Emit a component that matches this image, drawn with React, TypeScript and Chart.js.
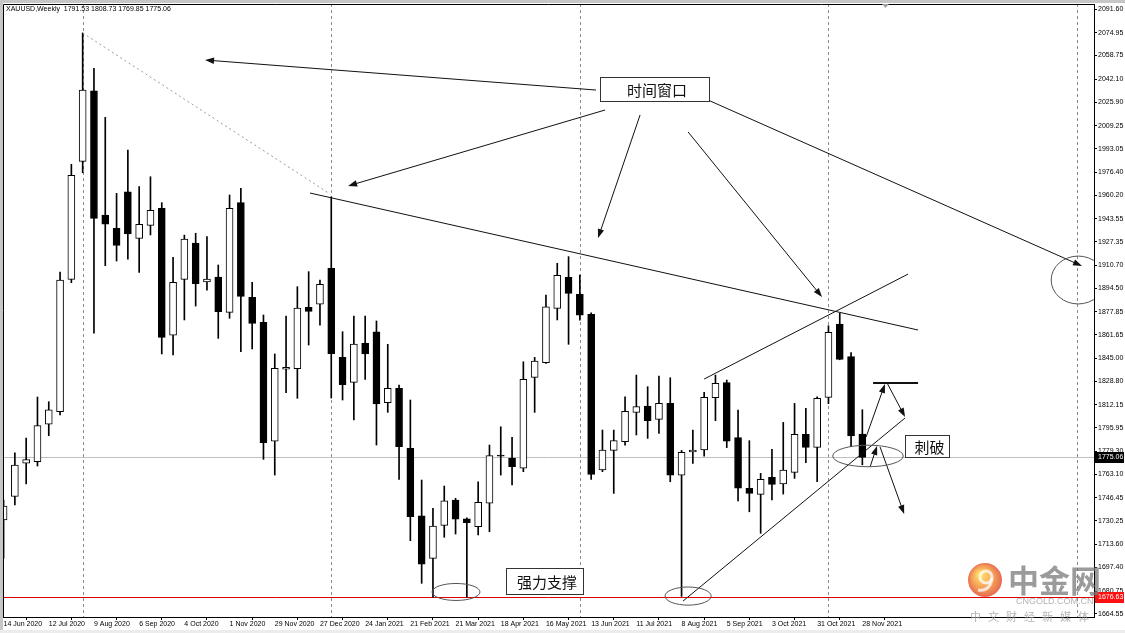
import React, { useEffect, useRef } from 'react';
import { Chart, registerables } from 'chart.js';

Chart.register(...registerables);

// ---- weekly OHLC, XAUUSD, week of 14 Jun 2020 (index 0) .. 28 Nov 2021 (index 76)
const opens = [
  1731, 1747.5, 1771, 1772, 1798.6, 1807.3, 1900.8, 1984, 2033.9, 1946.2,
  1936.8, 1962.6, 1929.7, 1938.9, 1950.9, 1861.3, 1900.8, 1926.4, 1898.9, 1902.4,
  1877.5, 1954.9, 1888.1, 1870.4, 1786.6, 1837.3, 1837.7, 1881, 1883.2, 1908.5,
  1845.7, 1828.1, 1855.6, 1863.8, 1813.7, 1823.8, 1781.5, 1733.9, 1703.8, 1727.1,
  1744.9, 1731.8, 1726.2, 1742.7, 1776.8, 1774.6, 1767.4, 1831.6, 1841.9, 1880.3,
  1902.2, 1890.2, 1876.1, 1766.2, 1780.1, 1786.2, 1806.9, 1811.4, 1801.9, 1813.2,
  1762.6, 1778.9, 1780.3, 1817.2, 1827.9, 1789, 1753.3, 1749, 1761, 1756.3,
  1764.5, 1791.4, 1782.2, 1817.5, 1869.2, 1846.2, 1791.53,
];
const highs = [
  1745, 1778.4, 1788.8, 1817.7, 1814.4, 1905.9, 1982, 2074.7, 2049.7, 2015.1,
  1961.5, 1992.1, 1966.2, 1973.2, 1954.9, 1916.3, 1932, 1933.3, 1930.9, 1910.9,
  1960.3, 1965, 1898.7, 1875.6, 1848.1, 1874.9, 1895.6, 1906.2, 1900.3, 1959,
  1863.8, 1874.9, 1874.9, 1871.4, 1854.9, 1826.2, 1815.6, 1759.1, 1739.1, 1754.9,
  1746.2, 1732.5, 1757.9, 1783.8, 1796.7, 1789.3, 1842.6, 1845.7, 1889.7, 1912.1,
  1916.8, 1903.8, 1877.2, 1794.4, 1794.4, 1817.9, 1833.2, 1825, 1832.5, 1831.3,
  1780, 1794.4, 1821, 1833.2, 1829.7, 1808.5, 1786.9, 1763.8, 1780.8, 1799.8,
  1813.2, 1809.7, 1817.9, 1868, 1876.8, 1849, 1808.73,
];
const lows = [
  1704, 1741.5, 1756.3, 1769, 1790.4, 1805, 1898.4, 1976, 1862.7, 1910.4,
  1913.7, 1915.1, 1905.7, 1932.1, 1848.1, 1847.4, 1872.1, 1881.9, 1893.2, 1859.1,
  1873.3, 1849.7, 1851.6, 1773.7, 1762.6, 1820.7, 1816.8, 1854.4, 1868.5, 1817,
  1815.6, 1801.5, 1830.2, 1783.8, 1806.9, 1759.6, 1716.3, 1686.2, 1676.5, 1718.7,
  1721, 1676.5, 1720.3, 1722.6, 1762.6, 1755.6, 1765, 1806.9, 1841.5, 1872.1,
  1854.9, 1872, 1759.6, 1765, 1749.7, 1783.8, 1790.9, 1788.5, 1792.1, 1757.9,
  1677, 1770.9, 1776, 1801, 1782, 1744.3, 1736.7, 1721.5, 1745, 1749.2,
  1760.3, 1771.3, 1758, 1813, 1844, 1782.6, 1769.85,
];
const closes = [
  1740.8, 1769.7, 1773.5, 1797.5, 1808.7, 1900.3, 1974.2, 2034.4, 1943.8, 1939.8,
  1924.8, 1932.8, 1939.6, 1949.5, 1859.8, 1898.7, 1929.2, 1897.7, 1901, 1877.9,
  1950.9, 1888.8, 1869.7, 1785.4, 1838, 1838.7, 1880.4, 1878.2, 1897.3, 1848.3,
  1826.4, 1855.1, 1848.1, 1812.8, 1823.8, 1782.6, 1733.2, 1699.8, 1726.6, 1744.5,
  1731.4, 1729, 1743.4, 1776.3, 1776, 1768.5, 1830.2, 1843.1, 1881.4, 1903.6,
  1890.9, 1875.4, 1763.1, 1780.3, 1786.9, 1807.6, 1810.9, 1801, 1813.2, 1762.6,
  1778.7, 1780.3, 1817.5, 1827.4, 1786.6, 1753.3, 1749.7, 1759.6, 1756.1, 1766.2,
  1791.4, 1782.2, 1816.8, 1863.4, 1844.3, 1790.2, 1775.06,
];

// x-axis labels, one every 4 weeks starting at index 0
const tickDates = [
  '14 Jun 2020', '12 Jul 2020', '9 Aug 2020', '6 Sep 2020', '4 Oct 2020', '1 Nov 2020',
  '29 Nov 2020', '27 Dec 2020', '24 Jan 2021', '21 Feb 2021', '21 Mar 2021', '18 Apr 2021',
  '16 May 2021', '13 Jun 2021', '11 Jul 2021', '8 Aug 2021', '5 Sep 2021', '3 Oct 2021',
  '31 Oct 2021', '28 Nov 2021',
];
const priceTicks = [
  2091.6, 2074.95, 2058.75, 2042.1, 2025.9, 2009.25, 1993.05, 1976.4, 1960.2, 1943.55,
  1927.35, 1910.7, 1894.5, 1877.85, 1861.65, 1845.0, 1828.8, 1812.15, 1795.95, 1779.3,
  1763.1, 1746.45, 1730.25, 1713.6, 1697.4, 1680.75, 1664.55,
];

const symbolHeader = 'XAUUSD,Weekly  1791.53 1808.73 1769.85 1775.06';
const lastPrice = 1775.06;
const supportPrice = 1676.63;

// "time window" vertical lines (bar index)
const timeWindows = [7, 29, 51, 73, 95];

// annotations in data units: [bar index, price, bar index, price]
const dottedLine = [7, 2074.7, 28.9, 1961.0];
const trendLines = [
  [27.12, 1961.7, 80.93, 1865.0],
  [62.0, 1830.4, 80.05, 1904.5],
  [60.13, 1673.7, 79.78, 1802.9],
];
const levelLine = [76.95, 1827.6, 80.93, 1827.6];
const arrows = [
  [52.43, 2034.4, 17.83, 2055.6],
  [53.23, 2020.3, 30.49, 1966.7],
  [56.33, 2016.8, 52.61, 1929.9],
  [60.58, 2004.8, 72.43, 1888.3],
  [62.52, 2026.7, 95.44, 1910.2],
  [76.33, 1789.5, 78.0, 1826.9],
  [78.19, 1827.6, 79.78, 1803.6],
  [76.68, 1768.3, 77.3, 1783.1],
  [77.57, 1782.4, 79.7, 1735.1],
];
// ellipses: [center index, center price, radius in bars, radius in price]
const ellipses = [
  [76.5, 1776.1, 3.12, 7.6],
  [95.1, 1900.3, 2.39, 16.9],
  [40.04, 1680.1, 2.12, 6.0],
  [60.58, 1677.2, 2.04, 6.4],
];
// text boxes: [text, left index, top price, right index, bottom price]
const textBoxes: [string, number, number, number, number][] = [
  ['时间窗口', 52.79, 2043.6, 62.43, 2026.7],
  ['强力支撑', 44.47, 1697.0, 51.28, 1678.7],
  ['刺破', 79.78, 1790.9, 83.67, 1775.4],
];

const AXIS_FONT = '"Liberation Sans", Arial, sans-serif';
const CJK_FONT = '"Noto Sans CJK SC", sans-serif';

function drawArrow(ctx: CanvasRenderingContext2D, x1: number, y1: number, x2: number, y2: number) {
  const ang = Math.atan2(y2 - y1, x2 - x1);
  const len = 9;
  const hw = 3.2;
  ctx.beginPath();
  ctx.moveTo(x1, y1);
  ctx.lineTo(x2 - Math.cos(ang) * len * 0.7, y2 - Math.sin(ang) * len * 0.7);
  ctx.stroke();
  ctx.beginPath();
  ctx.moveTo(x2, y2);
  ctx.lineTo(x2 - Math.cos(ang) * len - Math.sin(ang) * hw, y2 - Math.sin(ang) * len + Math.cos(ang) * hw);
  ctx.lineTo(x2 - Math.cos(ang) * len + Math.sin(ang) * hw, y2 - Math.sin(ang) * len - Math.cos(ang) * hw);
  ctx.closePath();
  ctx.fill();
}

const overlayPlugin = {
  id: 'mt4overlay',
  beforeDraw(chart: any) {
    const { ctx, width, height } = chart;
    ctx.save();
    ctx.fillStyle = '#ffffff';
    ctx.fillRect(0, 0, width, height);
    ctx.fillStyle = '#c6c6c6';
    ctx.fillRect(0, 0, width, 3);
    ctx.fillRect(0, 0, 3, height);
    ctx.fillStyle = '#ececec';
    ctx.fillRect(0, 630, width, 3);
    ctx.restore();
  },
  beforeDatasetsDraw(chart: any) {
    const { ctx, chartArea: a, scales } = chart;
    const xs = scales.x;
    const ys = scales.y;
    ctx.save();
    ctx.beginPath();
    ctx.rect(a.left, a.top, a.right - a.left, a.bottom - a.top);
    ctx.clip();
    ctx.lineWidth = 1;
    // time window separators
    ctx.strokeStyle = '#8a8a8a';
    ctx.setLineDash([3, 3]);
    timeWindows.forEach((t) => {
      const px = Math.round(xs.getPixelForValue(t)) + 0.5;
      ctx.beginPath();
      ctx.moveTo(px, a.top);
      ctx.lineTo(px, a.bottom);
      ctx.stroke();
    });
    ctx.setLineDash([]);
    // current price line
    const yl = Math.round(ys.getPixelForValue(lastPrice)) + 0.5;
    ctx.strokeStyle = '#c0c0c0';
    ctx.beginPath();
    ctx.moveTo(a.left, yl);
    ctx.lineTo(a.right, yl);
    ctx.stroke();
    // support line (red)
    const ysup = Math.round(ys.getPixelForValue(supportPrice)) + 0.5;
    ctx.strokeStyle = '#e00000';
    ctx.beginPath();
    ctx.moveTo(a.left, ysup);
    ctx.lineTo(a.right, ysup);
    ctx.stroke();
    ctx.restore();
  },
  afterDatasetsDraw(chart: any) {
    const { ctx, chartArea: a, scales } = chart;
    const X = (v: number) => scales.x.getPixelForValue(v);
    const Y = (v: number) => scales.y.getPixelForValue(v);
    ctx.save();
    ctx.beginPath();
    ctx.rect(a.left, a.top, a.right - a.left, a.bottom - a.top);
    ctx.clip();
    ctx.lineWidth = 1;
    // dotted trend
    ctx.strokeStyle = '#9a9a9a';
    ctx.setLineDash([2, 3]);
    ctx.beginPath();
    ctx.moveTo(X(dottedLine[0]), Y(dottedLine[1]));
    ctx.lineTo(X(dottedLine[2]), Y(dottedLine[3]));
    ctx.stroke();
    ctx.setLineDash([]);
    // trend lines
    ctx.strokeStyle = '#111111';
    trendLines.forEach((l) => {
      ctx.beginPath();
      ctx.moveTo(X(l[0]), Y(l[1]));
      ctx.lineTo(X(l[2]), Y(l[3]));
      ctx.stroke();
    });
    // level line
    ctx.lineWidth = 2;
    ctx.beginPath();
    const ly = Math.round(Y(levelLine[1]));
    ctx.moveTo(X(levelLine[0]), ly);
    ctx.lineTo(X(levelLine[2]), ly);
    ctx.stroke();
    ctx.lineWidth = 1;
    // arrows
    ctx.strokeStyle = '#111111';
    ctx.fillStyle = '#111111';
    arrows.forEach((r) => drawArrow(ctx, X(r[0]), Y(r[1]), X(r[2]), Y(r[3])));
    // ellipses
    ctx.strokeStyle = '#555555';
    ellipses.forEach((e) => {
      const cx = X(e[0]);
      const cy = Y(e[1]);
      const rx = Math.abs(X(e[0] + e[2]) - cx);
      const ry = Math.abs(Y(e[1] + e[3]) - cy);
      ctx.beginPath();
      ctx.ellipse(cx, cy, rx, ry, 0, 0, Math.PI * 2);
      ctx.stroke();
    });
    // text boxes
    textBoxes.forEach(([t, l, tp, r, b]) => {
      const x1 = Math.round(X(l)) + 0.5;
      const y1 = Math.round(Y(tp)) + 0.5;
      const x2 = Math.round(X(r)) + 0.5;
      const y2 = Math.round(Y(b)) + 0.5;
      ctx.fillStyle = '#ffffff';
      ctx.fillRect(x1, y1, x2 - x1, y2 - y1);
      ctx.strokeStyle = '#333333';
      ctx.strokeRect(x1, y1, x2 - x1, y2 - y1);
      ctx.fillStyle = '#111111';
      ctx.font = `15px ${CJK_FONT}`;
      ctx.textAlign = 'center';
      ctx.textBaseline = 'middle';
      ctx.fillText(t, (x1 + x2) / 2 + 2, (y1 + y2) / 2 + 1);
    });
    ctx.restore();

    // frame and header
    ctx.save();
    ctx.strokeStyle = '#000000';
    ctx.lineWidth = 1;
    ctx.beginPath();
    ctx.moveTo(a.left + 0.5, a.bottom);
    ctx.lineTo(a.left + 0.5, a.top + 0.5);
    ctx.lineTo(a.right, a.top + 0.5);
    ctx.stroke();
    ctx.fillStyle = '#000000';
    ctx.font = `7px ${AXIS_FONT}`;
    ctx.textAlign = 'left';
    ctx.textBaseline = 'middle';
    ctx.fillText(symbolHeader, a.left + 3, a.top + 5);
    // chart-shift marker
    ctx.fillStyle = '#a0a0a0';
    ctx.beginPath();
    ctx.moveTo(882, a.top);
    ctx.lineTo(889, a.top);
    ctx.lineTo(885.5, a.top + 4);
    ctx.closePath();
    ctx.fill();
    ctx.restore();
  },
  afterDraw(chart: any) {
    const { ctx, chartArea: a, scales, width } = chart;
    const Y = (v: number) => scales.y.getPixelForValue(v);
    ctx.save();
    ctx.font = `7px ${AXIS_FONT}`;
    ctx.textAlign = 'left';
    ctx.textBaseline = 'middle';
    const tag = (price: number, bg: string) => {
      const y = Math.round(Y(price));
      ctx.fillStyle = bg;
      ctx.fillRect(a.right + 1, y - 5, width - a.right - 2, 11);
      ctx.fillStyle = '#ffffff';
      ctx.fillText(price.toFixed(2), a.right + 4, y + 0.5);
    };
    tag(lastPrice, '#000000');
    tag(supportPrice, '#ff1010');

    // watermark
    ctx.globalAlpha = 0.75;
    const grd = ctx.createRadialGradient(980, 574, 2, 985, 580, 18);
    grd.addColorStop(0, '#ffd23a');
    grd.addColorStop(0.6, '#f07a1e');
    grd.addColorStop(1, '#d9301a');
    ctx.fillStyle = grd;
    ctx.beginPath();
    ctx.arc(985, 580, 17, 0, Math.PI * 2);
    ctx.fill();
    ctx.strokeStyle = '#ffffff';
    ctx.lineWidth = 3;
    ctx.beginPath();
    ctx.arc(986, 577, 6, 0, Math.PI * 2);
    ctx.stroke();
    ctx.beginPath();
    ctx.moveTo(992, 578);
    ctx.quadraticCurveTo(990, 592, 978, 590);
    ctx.stroke();
    ctx.fillStyle = '#7a7a7a';
    ctx.font = `bold 31px ${CJK_FONT}`;
    ctx.textBaseline = 'middle';
    ctx.fillText('中金网', 1008, 580);
    ctx.font = `9px ${AXIS_FONT}`;
    ctx.fillStyle = '#9a9a9a';
    ctx.fillText('CNGOLD.COM.CN', 1016, 602);
    ctx.font = `11px ${CJK_FONT}`;
    const wm = ['中', '文', '财', '经', '新', '媒', '体'];
    wm.forEach((c, i) => ctx.fillText(c, 970 + i * 18, 617));
    ctx.restore();
  },
};

export default function App() {
  const canvasRef = useRef<HTMLCanvasElement | null>(null);

  useEffect(() => {
    if (!canvasRef.current) return;
    const idx = opens.map((_, i) => i);
    const bodyData = idx.map((i) => ({ x: i, y: [Math.min(opens[i], closes[i]), Math.max(opens[i], closes[i])] }));
    const wickData = idx.map((i) => ({ x: i, y: [lows[i], highs[i]] }));
    const bodyColors = idx.map((i) => (closes[i] >= opens[i] ? '#ffffff' : '#000000'));

    const chart = new Chart(canvasRef.current, {
      type: 'bar',
      data: {
        datasets: [
          {
            label: 'body',
            data: bodyData as any,
            backgroundColor: bodyColors,
            borderColor: '#000000',
            borderWidth: 1,
            borderSkipped: false,
            barThickness: 7,
            minBarLength: 1,
            grouped: false,
            order: 0,
          } as any,
          {
            label: 'wick',
            data: wickData as any,
            backgroundColor: '#000000',
            borderWidth: 0,
            barThickness: 1,
            grouped: false,
            order: 1,
          } as any,
        ],
      },
      options: {
        responsive: false,
        animation: false,
        events: [],
        layout: { padding: { left: 3, top: 4, right: 0, bottom: 0 } },
        plugins: { legend: { display: false }, tooltip: { enabled: false } },
        scales: {
          x: {
            type: 'linear',
            position: 'bottom',
            min: -0.05,
            max: 96.5,
            offset: false,
            grid: { display: true, drawOnChartArea: false, drawTicks: true, tickLength: 3, color: '#000000' },
            border: { display: true, color: '#000000', width: 1 },
            afterBuildTicks: (scale: any) => {
              scale.ticks = tickDates.map((_, k) => ({ value: k * 4 }));
            },
            afterFit: (scale: any) => {
              scale.height = 16;
              scale.paddingLeft = 0;
              scale.paddingRight = 0;
            },
            ticks: {
              autoSkip: false,
              maxRotation: 0,
              minRotation: 0,
              align: 'start',
              padding: 0,
              color: '#000000',
              font: { family: AXIS_FONT, size: 7 },
              callback: (_v: any, i: number) => tickDates[i] ?? '',
            },
          } as any,
          y: {
            type: 'linear',
            position: 'right',
            min: 1662.43,
            max: 2095.13,
            grid: { display: true, drawOnChartArea: false, drawTicks: true, tickLength: 3, color: '#000000' },
            border: { display: true, color: '#000000', width: 1 },
            afterBuildTicks: (scale: any) => {
              scale.ticks = priceTicks.map((v) => ({ value: v }));
            },
            afterFit: (scale: any) => {
              scale.width = 31;
              scale.paddingTop = 0;
              scale.paddingBottom = 0;
            },
            ticks: {
              autoSkip: false,
              padding: 1,
              color: '#000000',
              font: { family: AXIS_FONT, size: 7 },
              callback: (v: any) => Number(v).toFixed(2),
            },
          } as any,
        },
      },
      plugins: [overlayPlugin],
    });
    return () => chart.destroy();
  }, []);

  return (
    <div style={{ position: 'absolute', left: 0, top: 0, width: 1125, height: 633 }}>
      <canvas ref={canvasRef} width={1125} height={633} style={{ display: 'block', width: 1125, height: 633 }} />
    </div>
  );
}
